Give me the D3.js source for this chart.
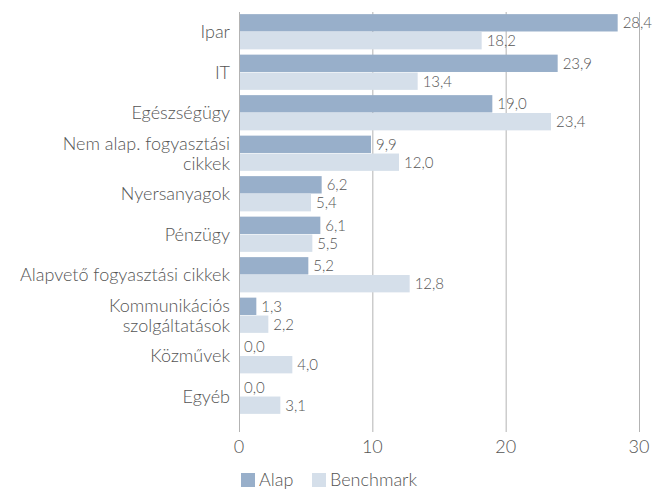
<!DOCTYPE html>
<html>
<head>
<meta charset="utf-8">
<script src="https://cdn.jsdelivr.net/npm/d3@7"></script>
<style>
    body { margin: 0; background: #fff; }
    text { font-family: Lato, "Open Sans", sans-serif; font-weight: 300; fill: #555; }
</style>
</head>
<body>
<svg id="chart" width="654" height="493"></svg>
<script>
// data
const categories = [
    ["Ipar"],
    ["IT"],
    ["Egészségügy"],
    ["Nem alap. fogyasztási", "cikkek"],
    ["Nyersanyagok"],
    ["Pénzügy"],
    ["Alapvető fogyasztási cikkek"],
    ["Kommunikációs", "szolgáltatások"],
    ["Közművek"],
    ["Egyéb"]
];
const alapValues = [28.4, 23.9, 19.0, 9.9, 6.2, 6.1, 5.2, 1.3, 0.0, 0.0];
const benchmarkValues = [18.2, 13.4, 23.4, 12.0, 5.4, 5.5, 12.8, 2.2, 4.0, 3.1];
const seriesNames = ["Alap", "Benchmark"];
const seriesColors = ["#98afca", "#d5dfea"];
const xTicks = [0, 10, 20, 30];

const svg = d3.select("#chart");

const x = d3.scaleLinear().domain([0, 30]).range([239, 639]);
const y = d3.scaleBand()
    .domain(d3.range(categories.length))
    .range([11.5, 416.5])
    .paddingInner(0.13)
    .paddingOuter(0.065);
const sub = d3.scaleBand()
    .domain([0, 1])
    .range([0, y.bandwidth()])
    .paddingInner(0.03);

const fmt = function(v) { return v.toFixed(1).replace(".", ","); };

// grid lines
svg.append("g")
    .selectAll("line")
    .data(xTicks)
    .enter()
    .append("line")
    .attr("x1", function(d) { return x(d) + 0.5; })
    .attr("x2", function(d) { return x(d) + 0.5; })
    .attr("y1", 12)
    .attr("y2", 432)
    .attr("stroke", "#b3b3b3")
    .attr("stroke-width", 1);

// tick labels
svg.append("g")
    .selectAll("text")
    .data(xTicks)
    .enter()
    .append("text")
    .attr("x", function(d) { return x(d); })
    .attr("y", 453)
    .attr("text-anchor", "middle")
    .attr("font-size", 18)
    .text(function(d) { return d; });

const series = [alapValues, benchmarkValues];

series.forEach(function(values, s) {
    const g = svg.append("g");

    g.selectAll("rect")
        .data(values)
        .enter()
        .append("rect")
        .attr("x", x(0) + 1)
        .attr("y", function(d, i) { return y(i) + sub(s); })
        .attr("width", function(d) { return Math.max(0, x(d) - x(0) - 1); })
        .attr("height", sub.bandwidth())
        .attr("fill", seriesColors[s]);

    g.selectAll("text")
        .data(values)
        .enter()
        .append("text")
        .attr("x", function(d) { return x(d) + 5; })
        .attr("y", function(d, i) { return y(i) + sub(s) + sub.bandwidth() / 2; })
        .attr("dy", "0.36em")
        .attr("font-size", 15)
        .text(fmt);
});

// category labels
const labels = svg.append("g")
    .selectAll("text")
    .data(categories)
    .enter()
    .append("text")
    .attr("x", 230)
    .attr("y", function(d, i) { return y(i) + y.bandwidth() / 2; })
    .attr("text-anchor", "end")
    .attr("font-size", 18);

labels.each(function(lines) {
    const t = d3.select(this);
    const start = -(lines.length - 1) / 2 * 20;
    lines.forEach(function(line, k) {
        t.append("tspan")
            .attr("x", 230)
            .attr("dy", k === 0 ? (start / 18 + 0.36) + "em" : (20 / 18) + "em")
            .text(line);
    });
});

// legend
const legend = svg.append("g").attr("transform", "translate(241, 473)");
const legendX = [0, 71];

seriesNames.forEach(function(name, s) {
    legend.append("rect")
        .attr("x", legendX[s])
        .attr("y", 0)
        .attr("width", 14)
        .attr("height", 14)
        .attr("fill", seriesColors[s]);

    legend.append("text")
        .attr("x", legendX[s] + 18)
        .attr("y", 7)
        .attr("dy", "0.36em")
        .attr("font-size", 18)
        .text(name);
});
</script>
</body>
</html>
